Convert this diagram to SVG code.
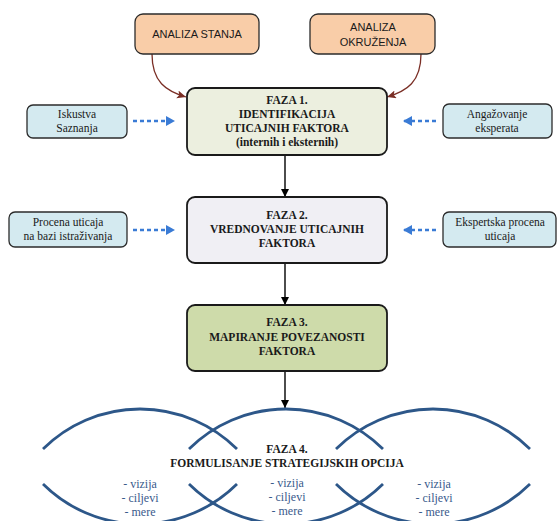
<svg xmlns="http://www.w3.org/2000/svg" width="557" height="521" viewBox="0 0 557 521">
<defs>
<style>
.peach{fill:#F9CDA8;stroke:#2b2b2b;stroke-width:1.3}
.side{fill:#D4EAF0;stroke:#2b2b2b;stroke-width:1.3}
.f1{fill:#ECEFDF;stroke:#1a1a1a;stroke-width:1.8}
.f2{fill:#F0EFF4;stroke:#1a1a1a;stroke-width:1.8}
.f3{fill:#CEDBAA;stroke:#1a1a1a;stroke-width:1.8}
.sans{font-family:"Liberation Sans",Arial,sans-serif;font-size:11px;fill:#1a1a1a;text-anchor:middle}
.bold{font-family:"Liberation Serif","Times New Roman",serif;font-size:11.5px;font-weight:bold;fill:#1a1a1a;text-anchor:middle}
.reg{font-family:"Liberation Serif","Times New Roman",serif;font-size:11.5px;fill:#1a1a1a;text-anchor:middle}
.list{font-family:"Liberation Serif","Times New Roman",serif;font-size:12px;fill:#3A5A8C;text-anchor:middle}
.brown{fill:none;stroke:#7A2E25;stroke-width:1.3;marker-end:url(#mb)}
.black{fill:none;stroke:#000;stroke-width:1.4;marker-end:url(#mk)}
.dash{fill:none;stroke:#3A7BD5;stroke-width:2.4;stroke-dasharray:4 3;marker-end:url(#md)}
.arc{fill:none;stroke:#2D5789;stroke-width:2.8}
</style>
<marker id="mk" markerUnits="userSpaceOnUse" markerWidth="10" markerHeight="10" refX="8" refY="4" orient="auto"><path d="M0,0 L8,4 L0,8 Z" fill="#000"/></marker>
<marker id="mb" markerUnits="userSpaceOnUse" markerWidth="10" markerHeight="10" refX="9" refY="4" orient="auto"><path d="M0,0 L9,4 L0,8 L2,4 Z" fill="#7A2E25"/></marker>
<marker id="md" markerUnits="userSpaceOnUse" markerWidth="12" markerHeight="12" refX="9" refY="5" orient="auto"><path d="M0,0 L9,5 L0,10 Z" fill="#3A7BD5"/></marker>
</defs>
<rect width="557" height="521" fill="#fff"/>

<g id="connectors">
<path class="brown" d="M152,54 C152,82 166,91 186,97"/>
<path class="brown" d="M421,54 C421,82 407,91 387,97"/>
<path class="dash" d="M133,121 L175,121"/>
<path class="dash" d="M436,121 L403,121"/>
<path class="dash" d="M133,230 L175,230"/>
<path class="dash" d="M436,230 L403,230"/>
<path class="black" d="M285,155 L285,197"/>
<path class="black" d="M285,263 L285,305"/>
<path class="black" d="M285,371 L285,408"/>
</g>

<g id="analiza-stanja">
<rect class="peach" x="135" y="14" width="124" height="40" rx="8"/>
<text class="sans" x="197" y="38">ANALIZA STANJA</text>
</g>
<g id="analiza-okruzenja">
<rect class="peach" x="310" y="14" width="125" height="40" rx="8"/>
<text class="sans" x="373" y="31">ANALIZA</text>
<text class="sans" x="373" y="46">OKRUŽENJA</text>
</g>

<g id="iskustva">
<rect class="side" x="27" y="105" width="100" height="33" rx="6"/>
<text class="reg" x="77" y="118">Iskustva</text>
<text class="reg" x="77" y="132">Saznanja</text>
</g>
<g id="angazovanje">
<rect class="side" x="443" y="104" width="109" height="34" rx="6"/>
<text class="reg" x="497" y="118">Angažovanje</text>
<text class="reg" x="497" y="132">eksperata</text>
</g>

<g id="faza1">
<rect class="f1" x="187" y="88" width="200" height="67" rx="8"/>
<text class="bold" x="287" y="104">FAZA 1.</text>
<text class="bold" x="287" y="118">IDENTIFIKACIJA</text>
<text class="bold" x="287" y="132">UTICAJNIH FAKTORA</text>
<text class="bold" x="287" y="146">(internih i eksternih)</text>
</g>

<g id="procena">
<rect class="side" x="9" y="212" width="118" height="35" rx="6"/>
<text class="reg" x="68" y="226">Procena uticaja</text>
<text class="reg" x="68" y="240">na bazi istraživanja</text>
</g>
<g id="ekspertska">
<rect class="side" x="443" y="212" width="113" height="35" rx="6"/>
<text class="reg" x="500" y="226">Ekspertska procena</text>
<text class="reg" x="500" y="240">uticaja</text>
</g>

<g id="faza2">
<rect class="f2" x="187" y="197" width="200" height="66" rx="8"/>
<text class="bold" x="287" y="219">FAZA 2.</text>
<text class="bold" x="287" y="233">VREDNOVANJE UTICAJNIH</text>
<text class="bold" x="287" y="247">FAKTORA</text>
</g>

<g id="faza3">
<rect class="f3" x="187" y="305" width="200" height="66" rx="8"/>
<text class="bold" x="287" y="326">FAZA 3.</text>
<text class="bold" x="287" y="341">MAPIRANJE POVEZANOSTI</text>
<text class="bold" x="287" y="355">FAKTORA</text>
</g>

<g id="faza4">
<path class="arc" d="M43,449 A137.6,137.6 0 0 1 237,449"/>
<path class="arc" d="M43,484 A137.6,137.6 0 0 0 237,484"/>
<path class="arc" d="M189,449 A137.6,137.6 0 0 1 383,449"/>
<path class="arc" d="M189,484 A137.6,137.6 0 0 0 383,484"/>
<path class="arc" d="M336,449 A137.6,137.6 0 0 1 530,449"/>
<path class="arc" d="M336,484 A137.6,137.6 0 0 0 530,484"/>
<text class="bold" x="287" y="453">FAZA 4.</text>
<text class="bold" x="287" y="467">FORMULISANJE STRATEGIJSKIH OPCIJA</text>
<text class="list" x="140" y="488">- vizija</text>
<text class="list" x="140" y="502">- ciljevi</text>
<text class="list" x="140" y="516">- mere</text>
<text class="list" x="287" y="487">- vizija</text>
<text class="list" x="287" y="501">- ciljevi</text>
<text class="list" x="287" y="515">- mere</text>
<text class="list" x="434" y="488">- vizija</text>
<text class="list" x="434" y="502">- ciljevi</text>
<text class="list" x="434" y="516">- mere</text>
</g>
</svg>
